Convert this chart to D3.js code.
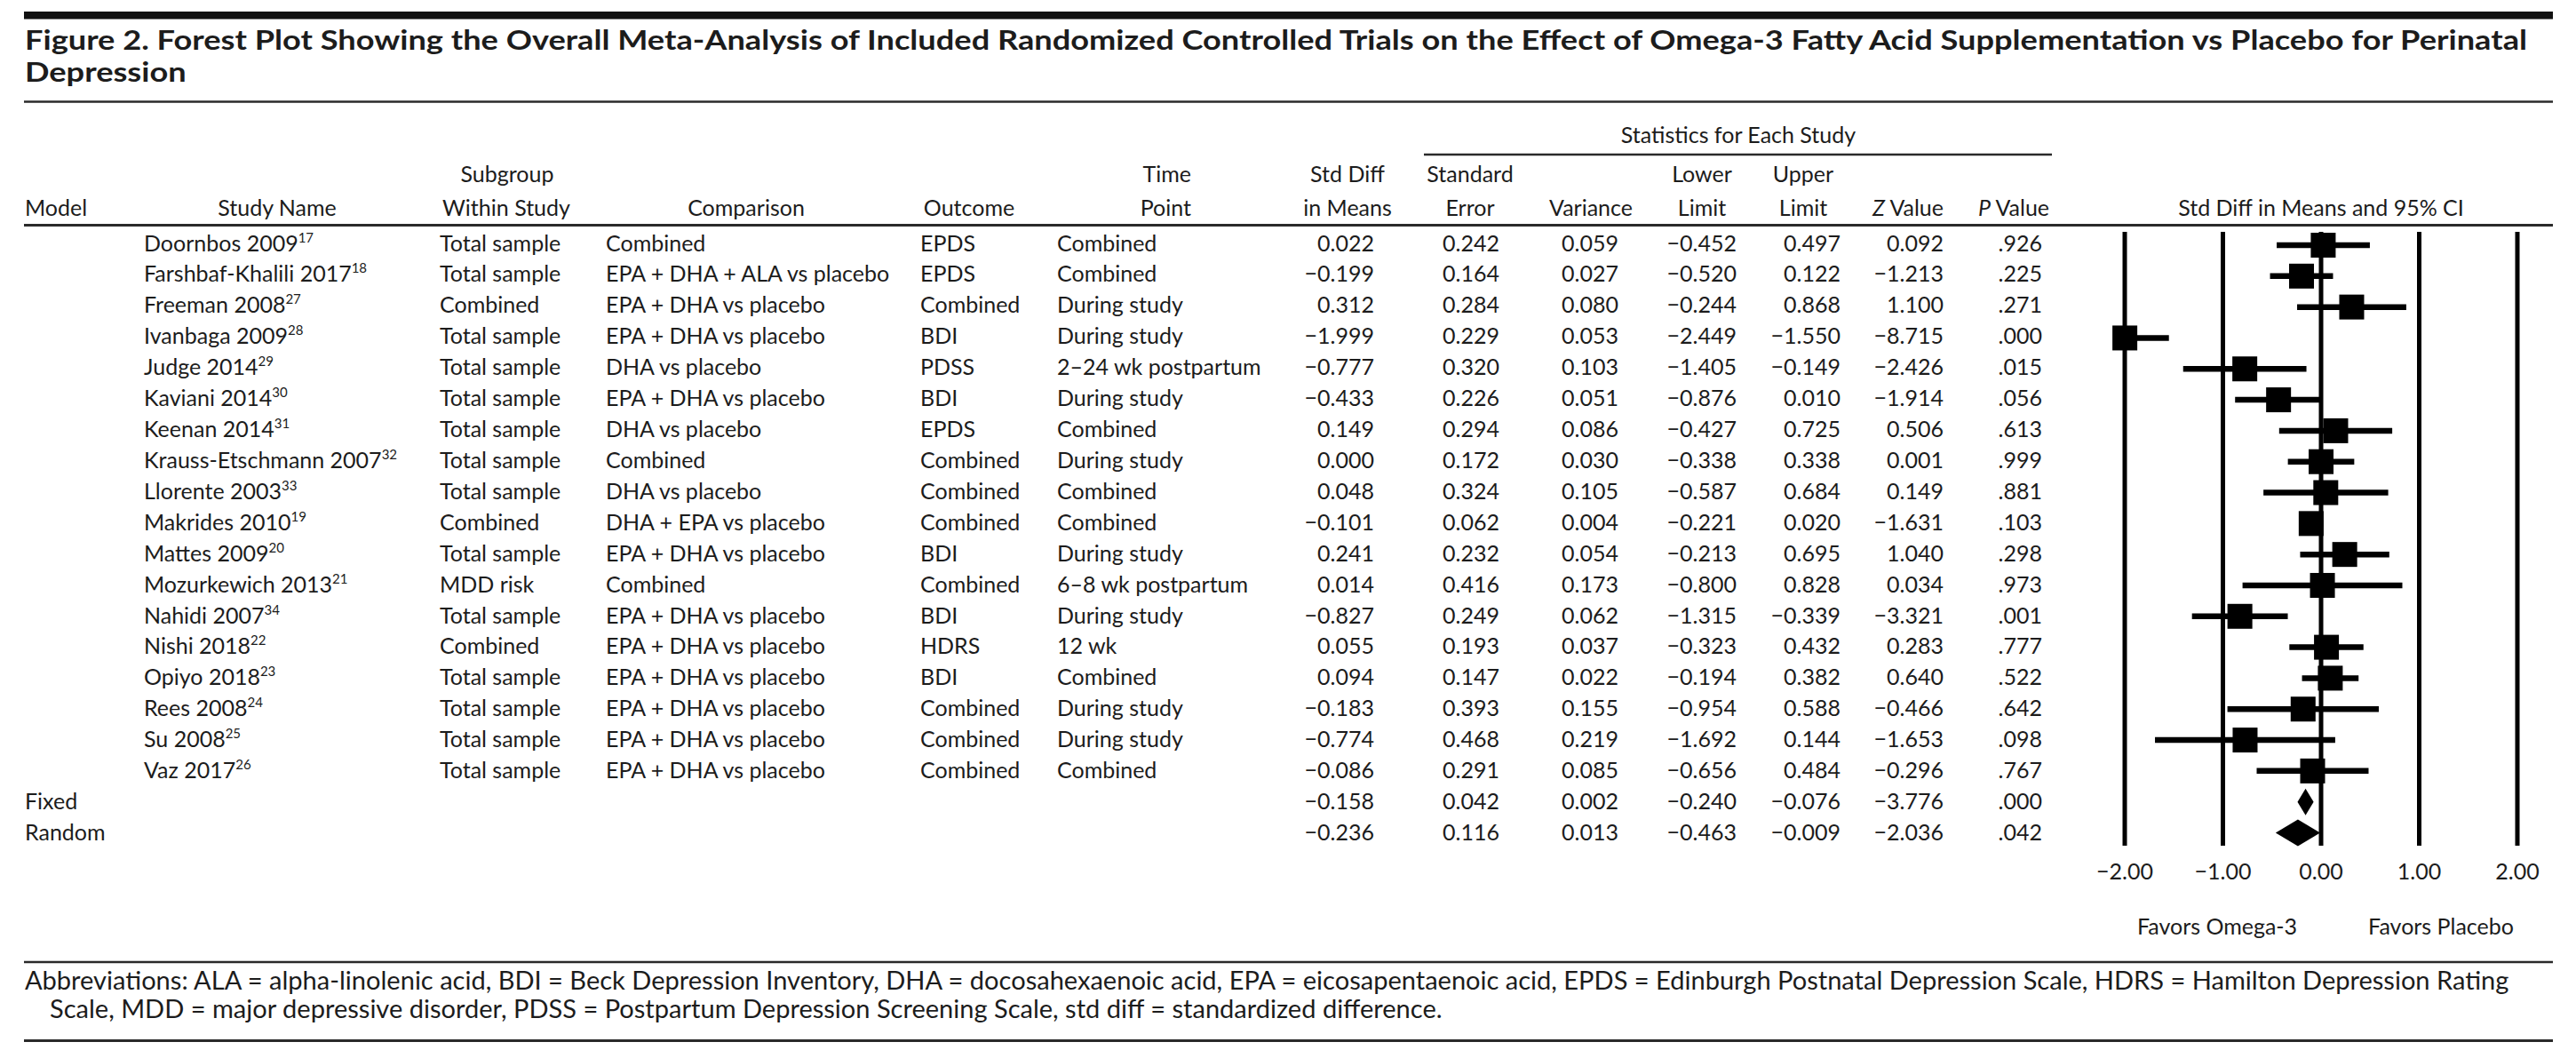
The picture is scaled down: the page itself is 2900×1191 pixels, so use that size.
<!DOCTYPE html>
<html><head><meta charset="utf-8">
<script src="https://cdn.jsdelivr.net/npm/d3@7"></script>
<style>html,body{margin:0;padding:0;background:#fff;} svg{display:block;}</style>
</head><body>
<svg id="chart" width="2900" height="1191"></svg>
<script>
// ---------------- DATA ----------------
const titleLines = [
  "Figure 2. Forest Plot Showing the Overall Meta-Analysis of Included Randomized Controlled Trials on the Effect of Omega-3 Fatty Acid Supplementation vs Placebo for Perinatal",
  "Depression"
];
const studyNames = ["Doornbos 2009","Farshbaf-Khalili 2017","Freeman 2008","Ivanbaga 2009","Judge 2014","Kaviani 2014","Keenan 2014","Krauss-Etschmann 2007","Llorente 2003","Makrides 2010","Mattes 2009","Mozurkewich 2013","Nahidi 2007","Nishi 2018","Opiyo 2018","Rees 2008","Su 2008","Vaz 2017"];
const studyRefs = ["17","18","27","28","29","30","31","32","33","19","20","21","34","22","23","24","25","26"];
const subgroups = ["Total sample","Total sample","Combined","Total sample","Total sample","Total sample","Total sample","Total sample","Total sample","Combined","Total sample","MDD risk","Total sample","Combined","Total sample","Total sample","Total sample","Total sample"];
const comparisons = ["Combined","EPA + DHA + ALA vs placebo","EPA + DHA vs placebo","EPA + DHA vs placebo","DHA vs placebo","EPA + DHA vs placebo","DHA vs placebo","Combined","DHA vs placebo","DHA + EPA vs placebo","EPA + DHA vs placebo","Combined","EPA + DHA vs placebo","EPA + DHA vs placebo","EPA + DHA vs placebo","EPA + DHA vs placebo","EPA + DHA vs placebo","EPA + DHA vs placebo"];
const outcomes = ["EPDS","EPDS","Combined","BDI","PDSS","BDI","EPDS","Combined","Combined","Combined","BDI","Combined","BDI","HDRS","BDI","Combined","Combined","Combined"];
const timePoints = ["Combined","Combined","During study","During study","2\u201324 wk postpartum","During study","Combined","During study","Combined","Combined","During study","6\u20138 wk postpartum","During study","12 wk","Combined","During study","During study","Combined"];
const stdDiff   = [0.022,-0.199,0.312,-1.999,-0.777,-0.433,0.149,0.000,0.048,-0.101,0.241,0.014,-0.827,0.055,0.094,-0.183,-0.774,-0.086];
const stdErr    = [0.242,0.164,0.284,0.229,0.320,0.226,0.294,0.172,0.324,0.062,0.232,0.416,0.249,0.193,0.147,0.393,0.468,0.291];
const variances = [0.059,0.027,0.080,0.053,0.103,0.051,0.086,0.030,0.105,0.004,0.054,0.173,0.062,0.037,0.022,0.155,0.219,0.085];
const lowerLim  = [-0.452,-0.520,-0.244,-2.449,-1.405,-0.876,-0.427,-0.338,-0.587,-0.221,-0.213,-0.800,-1.315,-0.323,-0.194,-0.954,-1.692,-0.656];
const upperLim  = [0.497,0.122,0.868,-1.550,-0.149,0.010,0.725,0.338,0.684,0.020,0.695,0.828,-0.339,0.432,0.382,0.588,0.144,0.484];
const zValues   = [0.092,-1.213,1.100,-8.715,-2.426,-1.914,0.506,0.001,0.149,-1.631,1.040,0.034,-3.321,0.283,0.640,-0.466,-1.653,-0.296];
const pValues   = [0.926,0.225,0.271,0.000,0.015,0.056,0.613,0.999,0.881,0.103,0.298,0.973,0.001,0.777,0.522,0.642,0.098,0.767];

const summaryModels  = ["Fixed","Random"];
const summaryStdDiff = [-0.158,-0.236];
const summaryStdErr  = [0.042,0.116];
const summaryVar     = [0.002,0.013];
const summaryLower   = [-0.240,-0.463];
const summaryUpper   = [-0.076,-0.009];
const summaryZ       = [-3.776,-2.036];
const summaryP       = [0.000,0.042];

const xTicks = [-2,-1,0,1,2];
const favorLabels = ["Favors Omega-3","Favors Placebo"];
const abbrevLines = [
  "Abbreviations: ALA = alpha-linolenic acid, BDI = Beck Depression Inventory, DHA = docosahexaenoic acid, EPA = eicosapentaenoic acid, EPDS = Edinburgh Postnatal Depression Scale, HDRS = Hamilton Depression Rating",
  "Scale, MDD = major depressive disorder, PDSS = Postpartum Depression Screening Scale, std diff = standardized difference."
];

// ---------------- DRAW ----------------
const FONT = "Lato, 'Open Sans', sans-serif";
const INK = "#1c1c1c";
const FS = 25;
const svg = d3.select("#chart");
svg.append("rect").attr("width",2900).attr("height",1191).attr("fill","#fff");

function rule(x1,x2,y,w,c){ svg.append("line").attr("x1",x1).attr("x2",x2).attr("y1",y).attr("y2",y).attr("stroke",c||"#2a2a2a").attr("stroke-width",w); }
function txt(x,y,s,anchor,opts){
  opts = opts||{};
  const t = svg.append("text").attr("x",x).attr("y",y).attr("text-anchor",anchor||"start")
    .attr("font-family",FONT).attr("font-size",opts.size||FS).attr("fill",INK);
  if(opts.weight) t.attr("font-weight",opts.weight);
  if(opts.italic) t.attr("font-style","italic");
  t.text(s);
  return t;
}

// top bar + title (glyphs stretched slightly to match the reference width)
rule(27,2874,17.3,8.5,"#111");
const TS = 29.5;
const tt = titleLines.map((s,i)=> txt(28, [56,92][i], s, "start", {size:TS, weight:700}));
const tl = tt[0].node().getComputedTextLength();
const stretch = 2817 / tl;
tt.forEach(t=>{
  const w = t.node().getComputedTextLength();
  t.attr("textLength", w*stretch).attr("lengthAdjust","spacingAndGlyphs");
});
rule(27,2874,114.5,2.5);

// headers
txt(1957,161,"Statistics for Each Study","middle");
rule(1603,2310,174,2.5);
const hy1 = 205, hy2 = 243;
[["Subgroup",571,"middle"],["Time",1341,"end"],["Std Diff",1517,"middle"],["Standard",1655,"middle"],["Lower",1916,"middle"],["Upper",2030,"middle"]]
  .forEach(h=>txt(h[1],hy1,h[0],h[2]));
[["Model",28,"start"],["Study Name",312,"middle"],["Within Study",570,"middle"],["Comparison",840,"middle"],["Outcome",1091,"middle"],["Point",1341,"end"],["in Means",1517,"middle"],["Error",1655,"middle"],["Variance",1791,"middle"],["Limit",1916,"middle"],["Limit",2030,"middle"],["Std Diff in Means and 95% CI",2613,"middle"]]
  .forEach(h=>txt(h[1],hy2,h[0],h[2]));
// italic Z / P
[["Z",2148],["P",2267]].forEach(h=>{
  const t = svg.append("text").attr("x",h[1]).attr("y",hy2).attr("text-anchor","middle")
    .attr("font-family",FONT).attr("font-size",FS).attr("fill",INK);
  t.append("tspan").attr("font-style","italic").text(h[0]);
  t.append("tspan").text(" Value");
});
rule(27,2874,253.5,3);

// scales
const nRows = studyNames.length + summaryModels.length;
const textY = d3.scaleLinear().domain([0,nRows-1]).range([282.5,946]);
const markY = d3.scaleLinear().domain([0,nRows-1]).range([276,937.5]);
const x = d3.scaleLinear().domain([-2,2]).range([2392,2834]);
const f3 = d3.format(".3f");
const fp = v => f3(v).replace(/^0/,"");

// study rows
studyNames.forEach((name,i)=>{
  const y = textY(i);
  const t = svg.append("text").attr("x",162).attr("y",y).attr("font-family",FONT).attr("font-size",FS).attr("fill",INK);
  t.append("tspan").text(name);
  t.append("tspan").attr("font-size",15).attr("dy",-10).text(studyRefs[i]);
  txt(495,y,subgroups[i]);
  txt(682,y,comparisons[i]);
  txt(1036,y,outcomes[i]);
  txt(1190,y,timePoints[i]);
});
function numRow(i, vals){
  const y = textY(i);
  const cols = [1547,1688,1822,1955,2072,2188,2299];
  vals.forEach((v,k)=> txt(cols[k], y, k===6 ? fp(v) : f3(v), "end"));
}
studyNames.forEach((n,i)=> numRow(i,[stdDiff[i],stdErr[i],variances[i],lowerLim[i],upperLim[i],zValues[i],pValues[i]]));
summaryModels.forEach((m,j)=>{
  const i = studyNames.length + j;
  txt(28,textY(i),m);
  numRow(i,[summaryStdDiff[j],summaryStdErr[j],summaryVar[j],summaryLower[j],summaryUpper[j],summaryZ[j],summaryP[j]]);
});

// forest plot
const plot = svg.append("g");
const yTop = 261, yBot = 952;
plot.selectAll("line.grid").data(xTicks).enter().append("line")
  .attr("x1",d=>x(d)).attr("x2",d=>x(d)).attr("y1",yTop).attr("y2",yBot)
  .attr("stroke","#000").attr("stroke-width",5);
svg.append("defs").append("clipPath").attr("id","clipx").append("rect")
  .attr("x",x(-2)).attr("y",0).attr("width",x(2)-x(-2)).attr("height",1191);
const ci = plot.append("g").attr("clip-path","url(#clipx)");
studyNames.forEach((n,i)=>{
  ci.append("line").attr("x1",x(lowerLim[i])).attr("x2",x(upperLim[i]))
    .attr("y1",markY(i)).attr("y2",markY(i)).attr("stroke","#000").attr("stroke-width",6.5);
});
const SQ = 28;
studyNames.forEach((n,i)=>{
  plot.append("rect").attr("x",x(stdDiff[i])-SQ/2).attr("y",markY(i)-SQ/2)
    .attr("width",SQ).attr("height",SQ).attr("fill","#000");
});
summaryModels.forEach((m,j)=>{
  const i = studyNames.length + j, cy = markY(i), h = 15;
  const pts = [[x(summaryLower[j]),cy],[x(summaryStdDiff[j]),cy-h],[x(summaryUpper[j]),cy],[x(summaryStdDiff[j]),cy+h]];
  plot.append("path").attr("d","M"+pts.map(p=>p.join(",")).join("L")+"Z").attr("fill","#000");
});
// tick labels
const fx = d3.format(".2f");
xTicks.forEach(d=> txt(x(d),990,fx(d),"middle"));
txt(2496,1052,favorLabels[0],"middle");
txt(2748,1052,favorLabels[1],"middle");

// footer
rule(27,2874,1083,2.5);
const ab = [txt(28,1114,abbrevLines[0]), txt(56,1146,abbrevLines[1])];
const al = ab[0].node().getComputedTextLength();
const aSize = FS*2798/al;
ab.forEach(t=>t.attr("font-size",aSize));
rule(27,2874,1171.5,3);
</script></body></html>
